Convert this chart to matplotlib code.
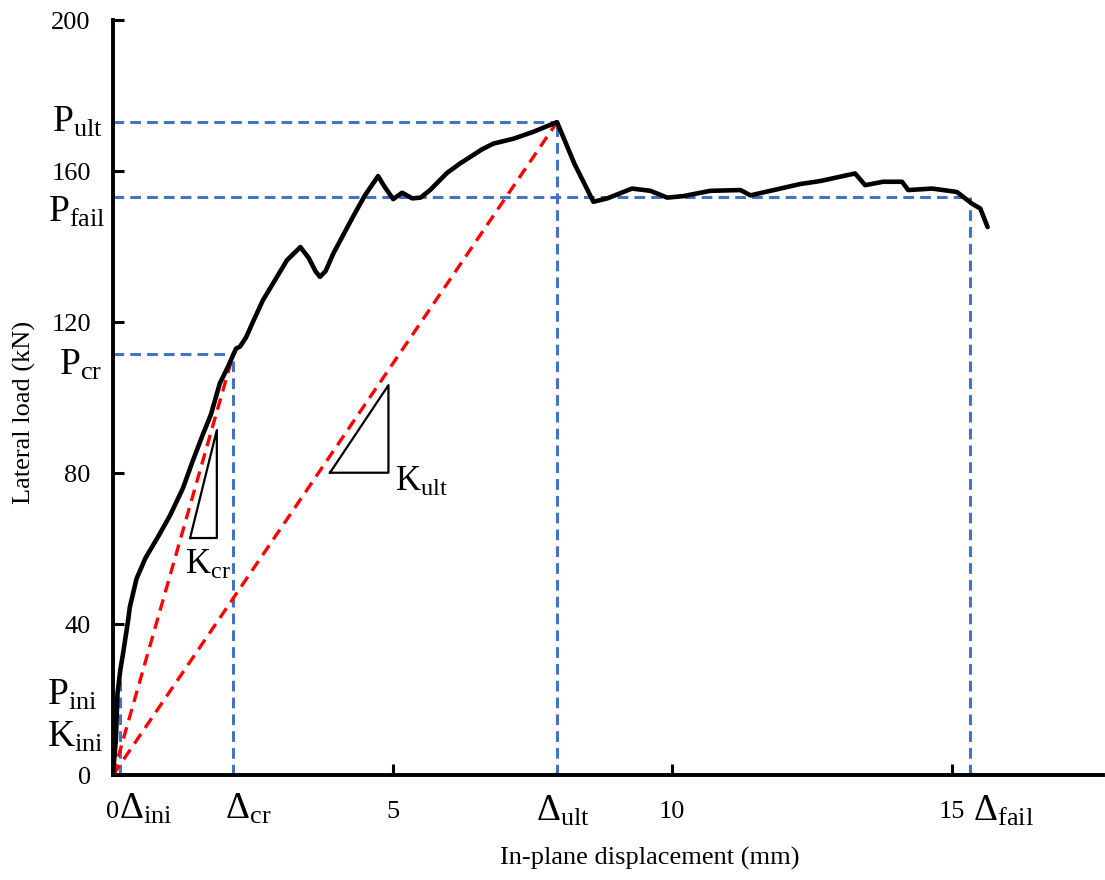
import matplotlib
matplotlib.use("Agg")
import matplotlib.pyplot as plt
import numpy as np

plt.rcParams['font.family'] = ['Liberation Serif', 'DejaVu Serif']
plt.rcParams['mathtext.fontset'] = 'custom'
plt.rcParams['mathtext.rm'] = 'Liberation Serif'
plt.rcParams['mathtext.it'] = 'Liberation Serif:italic'
plt.rcParams['mathtext.bf'] = 'Liberation Serif:bold'

# Load-displacement curve (mm, kN)
disp = [0, 0.02, 0.05, 0.08, 0.13, 0.18, 0.27, 0.30, 0.42, 0.58, 0.80, 1.02, 1.25,
        1.43, 1.60, 1.75, 1.91, 2.05, 2.13, 2.20, 2.27, 2.38, 2.50, 2.68, 2.85,
        3.11, 3.35, 3.50, 3.62, 3.70, 3.80, 3.94, 4.29, 4.50, 4.74, 4.85, 5.01,
        5.17, 5.35, 5.50, 5.67, 5.97, 6.20, 6.39, 6.60, 6.80, 7.16, 7.51, 7.94,
        8.25, 8.59, 8.84, 9.28, 9.61, 9.91, 10.20, 10.68, 11.22, 11.40, 12.29,
        12.65, 13.27, 13.45, 13.77, 14.11, 14.22, 14.65, 15.09, 15.36, 15.51, 15.64]
load = [0, 4.0, 9.3, 21.6, 27.8, 32.3, 41.0, 44.5, 52.0, 57.5, 63.0, 68.8, 76.0,
        83.4, 90.0, 95.5, 103.8, 108.0, 110.7, 113.0, 113.5, 116.0, 120.0, 125.8, 130.0,
        136.4, 139.9, 137.0, 133.5, 132.0, 133.5, 138.2, 147.9, 153.5, 158.7, 156.0, 152.6,
        154.3, 152.8, 153.0, 155.0, 159.5, 162.0, 163.8, 165.8, 167.3, 168.6, 170.4, 173.0,
        162.0, 151.9, 152.8, 155.4, 154.8, 153.0, 153.4, 154.8, 155.0, 153.6, 156.6,
        157.4, 159.4, 156.3, 157.2, 157.2, 155.0, 155.4, 154.5, 151.4, 150.1, 145.2]

# Characteristic points
delta_ini, p_ini = 0.12, 27.0
delta_cr, p_cr = 2.15, 111.5
delta_ult, p_ult = 7.94, 173.0
delta_fail, p_fail = 15.33, 153.1

x_ticks = [0, 5, 10, 15]
x_ticklabels = ['0', '5', '10', '15']
y_ticks = [0, 40, 80, 120, 160, 200]

fig = plt.figure(figsize=(11.05, 8.8), dpi=100)
ax = fig.add_axes([0.1023, 0.1193, 0.8957, 0.8577])

blue = '#4472C4'
red = '#FF0000'
bdash = (0, (3.5, 2.0))
rdash = (0, (3.5, 2.2))

# blue guide lines
for d, p in [(delta_cr, p_cr), (delta_ult, p_ult), (delta_fail, p_fail)]:
    ax.plot([0, d], [p, p], color=blue, lw=2.2, linestyle=bdash, zorder=2)
    ax.plot([d, d], [0, p], color=blue, lw=2.2, linestyle=bdash, zorder=2)
ax.plot([delta_ini, delta_ini], [0, p_ini], color=blue, lw=2.2, linestyle=bdash, zorder=2)

# red secant lines
for d, p in [(delta_cr, p_cr), (delta_ult, p_ult)]:
    ax.plot([0, d], [0, p], color=red, lw=2.4, linestyle=rdash, zorder=3)

# curve
ax.plot(disp, load, color='black', lw=3.3, zorder=4, solid_joinstyle='round',
        solid_capstyle='round')

# stiffness triangles
tri_cr = [(1.378, 62.8), (1.856, 62.8), (1.856, 91.4), (1.378, 62.8)]
tri_ult = [(3.88, 80.1), (4.925, 80.1), (4.925, 103.3), (3.88, 80.1)]
for tri in (tri_cr, tri_ult):
    xs, ys = zip(*tri)
    ax.plot(xs, ys, color='black', lw=1.6, zorder=3)

ax.text(1.28, 55.5, r'$\mathrm{K_{cr}}$', fontsize=25, ha='left', va='center')
ax.text(5.05, 77.5, r'$\mathrm{K_{ult}}$', fontsize=25, ha='left', va='center')

ax.set_xlim(0, 17.7)
ax.set_ylim(0, 200)
ax.set_xticks(x_ticks)
ax.set_yticks(y_ticks)
ax.set_xticklabels(x_ticklabels)
ax.tick_params(direction='in', length=8, width=2.2, labelsize=19)
ax.tick_params(axis='y', pad=16)
ax.tick_params(axis='x', pad=19)

for s in ['top', 'right']:
    ax.spines[s].set_visible(False)
for s in ['left', 'bottom']:
    ax.spines[s].set_linewidth(2.8)

ax.set_xlabel('In-plane displacement (mm)', fontsize=19)
ax.set_ylabel('Lateral load (kN)', fontsize=19)
ax.xaxis.set_label_coords(0.542, -0.095)
ax.yaxis.set_label_coords(-0.078, 0.48)

# symbolic labels
tr_y = ax.get_yaxis_transform()
tr_x = ax.get_xaxis_transform()
lab_kw = dict(fontsize=27, clip_on=False)
ax.text(-0.01, p_ult, r'$\mathrm{P_{ult}}$', transform=tr_y, ha='right', va='center', **lab_kw)
ax.text(-0.007, p_fail - 4, r'$\mathrm{P_{fail}}$', transform=tr_y, ha='right', va='center', **lab_kw)
ax.text(-0.011, p_cr - 3, r'$\mathrm{P_{cr}}$', transform=tr_y, ha='right', va='center', **lab_kw)
ax.text(-0.016, 21, r'$\mathrm{P_{ini}}$', transform=tr_y, ha='right', va='center', **lab_kw)
ax.text(-0.01, 10, r'$\mathrm{K_{ini}}$', transform=tr_y, ha='right', va='center', **lab_kw)

ax.text(0.1, -0.045, r'$\mathrm{\Delta_{ini}}$', transform=tr_x, ha='left', va='center', **lab_kw)
ax.text(delta_cr + 0.27, -0.045, r'$\mathrm{\Delta_{cr}}$', transform=tr_x, ha='center', va='center', **lab_kw)
ax.text(delta_ult + 0.1, -0.048, r'$\mathrm{\Delta_{ult}}$', transform=tr_x, ha='center', va='center', **lab_kw)
ax.text(delta_fail + 0.05, -0.048, r'$\mathrm{\Delta_{fail}}$', transform=tr_x, ha='left', va='center', **lab_kw)

fig.savefig('out.png', dpi=100)
